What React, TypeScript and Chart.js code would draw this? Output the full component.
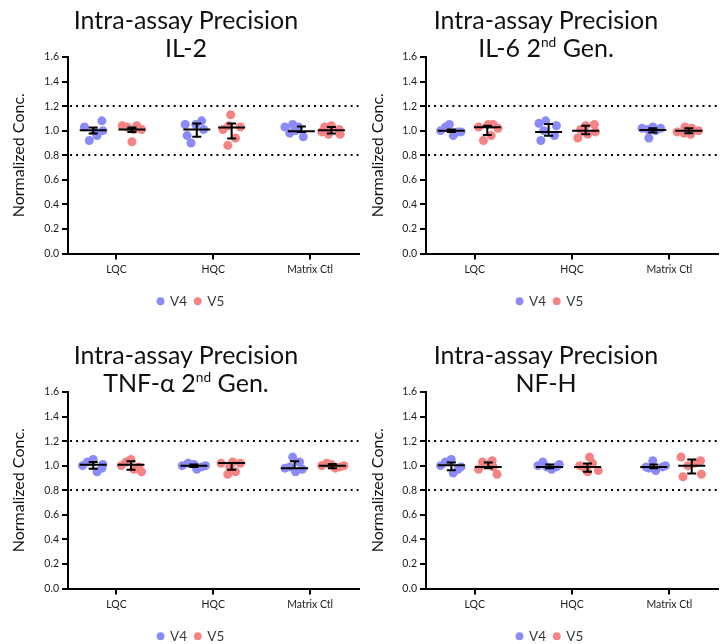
import React, { useEffect, useRef } from "react";
import { Chart, registerables } from "chart.js";

Chart.register(...registerables);

// ---------- data ----------
const CATEGORIES = ["LQC", "HQC", "Matrix Ctl"];
const SERIES = ["V4", "V5"];
const Y_TICKS = [0, 0.2, 0.4, 0.6, 0.8, 1.0, 1.2, 1.4, 1.6];
const LIMITS = [0.8, 1.2];
const TITLE_LINE1 = "Intra-assay Precision";
// second title line: [main, superscript, rest]
const TITLE_IL2 = ["IL-2", "", ""];
const TITLE_IL6 = ["IL-6 2", "nd", " Gen."];
const TITLE_TNF = ["TNF-\u03b1 2", "nd", " Gen."];
const TITLE_NFH = ["NF-H", "", ""];

// IL-2
const IL2_V4 = [[1.03, 0.92, 0.96, 1.08, 1.0, 0.99], [1.05, 0.9, 0.96, 1.05, 1.08, 1.01], [1.03, 1.05, 1.03, 0.95, 1.0, 0.98]];
const IL2_V4_X = [[-0.33, -0.28, -0.2, -0.15, -0.14, -0.22], [-0.29, -0.23, -0.27, -0.18, -0.12, -0.1], [-0.26, -0.18, -0.12, -0.07, -0.15, -0.21]];
const IL2_V5 = [[1.04, 1.03, 0.91, 1.04, 1.01, 1.01], [1.01, 1.13, 0.88, 1.03, 0.94, 1.04], [0.99, 1.03, 1.04, 1.01, 0.97, 0.97]];
const IL2_V5_X = [[0.06, 0.11, 0.16, 0.21, 0.26, 0.18], [0.1, 0.18, 0.15, 0.28, 0.23, 0.16], [0.12, 0.15, 0.22, 0.3, 0.31, 0.19]];
const IL2_V4_MED = [1.004, 1.01, 0.996];
const IL2_V4_LO = [0.977, 0.95, 0.99];
const IL2_V4_HI = [1.026, 1.059, 1.034];
const IL2_V5_MED = [1.01, 1.026, 1.004];
const IL2_V5_LO = [0.99, 0.936, 0.977];
const IL2_V5_HI = [1.026, 1.059, 1.03];
const IL2_V4_C = [-0.24, -0.17, -0.09];
const IL2_V5_C = [0.16, 0.19, 0.22];

// IL-6 2nd Gen.
const IL6_V4 = [[1.0, 1.03, 1.05, 0.96, 0.99, 0.99], [1.06, 1.08, 0.92, 1.04, 0.96, 1.0], [1.02, 0.94, 1.03, 1.02, 1.0, 1.01]];
const IL6_V4_X = [[-0.35, -0.3, -0.26, -0.22, -0.17, -0.14], [-0.34, -0.27, -0.32, -0.16, -0.18, -0.29], [-0.28, -0.21, -0.17, -0.09, -0.14, -0.22]];
const IL6_V5 = [[1.03, 0.92, 1.05, 1.05, 1.02, 0.96], [0.94, 1.01, 0.97, 1.05, 0.99, 1.04], [0.99, 1.03, 1.02, 1.0, 0.97, 0.98]];
const IL6_V5_X = [[0.04, 0.09, 0.14, 0.19, 0.24, 0.17], [0.06, 0.09, 0.16, 0.23, 0.24, 0.14], [0.08, 0.16, 0.23, 0.3, 0.22, 0.15]];
const IL6_V4_MED = [1.0, 0.99, 1.005];
const IL6_V4_LO = [0.99, 0.958, 0.986];
const IL6_V4_HI = [1.01, 1.054, 1.02];
const IL6_V5_MED = [1.027, 1.0, 1.0];
const IL6_V5_LO = [0.964, 0.972, 0.98];
const IL6_V5_HI = [1.04, 1.04, 1.02];
const IL6_V4_C = [-0.24, -0.24, -0.17];
const IL6_V5_C = [0.13, 0.14, 0.2];

// TNF-α 2nd Gen.
const TNF_V4 = [[1.0, 1.03, 1.05, 0.95, 0.98, 1.01], [1.0, 1.02, 1.01, 0.97, 0.99, 1.0], [1.07, 0.98, 0.99, 0.95, 0.97, 1.03]];
const TNF_V4_X = [[-0.35, -0.3, -0.24, -0.2, -0.15, -0.14], [-0.32, -0.26, -0.2, -0.17, -0.12, -0.08], [-0.18, -0.26, -0.21, -0.15, -0.08, -0.11]];
const TNF_V5 = [[1.0, 1.03, 1.05, 0.97, 0.99, 0.95], [1.02, 0.93, 1.03, 0.95, 1.02, 0.99], [1.0, 1.02, 1.01, 0.98, 0.99, 1.0]];
const TNF_V5_X = [[0.05, 0.1, 0.15, 0.18, 0.23, 0.26], [0.08, 0.15, 0.2, 0.23, 0.28, 0.17], [0.12, 0.17, 0.22, 0.26, 0.31, 0.35]];
const TNF_V4_MED = [1.008, 1.0, 0.98];
const TNF_V4_LO = [0.976, 0.99, 0.98];
const TNF_V4_HI = [1.03, 1.01, 1.036];
const TNF_V5_MED = [1.008, 1.022, 1.0];
const TNF_V5_LO = [0.967, 0.967, 0.98];
const TNF_V5_HI = [1.036, 1.022, 1.014];
const TNF_V4_C = [-0.24, -0.2, -0.16];
const TNF_V5_C = [0.15, 0.19, 0.23];

// NF-H
const NFH_V4 = [[1.0, 1.03, 1.05, 0.94, 0.97, 0.99], [1.0, 1.03, 0.99, 0.97, 0.99, 1.01], [1.04, 0.99, 0.96, 0.99, 0.98, 1.0]];
const NFH_V4_X = [[-0.35, -0.3, -0.24, -0.22, -0.17, -0.14], [-0.35, -0.3, -0.26, -0.21, -0.16, -0.13], [-0.17, -0.24, -0.14, -0.07, -0.21, -0.04]];
const NFH_V5 = [[0.97, 1.03, 1.01, 0.99, 0.93, 1.04], [1.07, 1.0, 0.98, 1.02, 0.96, 0.95], [1.07, 0.91, 1.04, 0.93, 1.0, 1.02]];
const NFH_V5_X = [[0.04, 0.08, 0.14, 0.19, 0.23, 0.18], [0.18, 0.08, 0.13, 0.21, 0.27, 0.16], [0.12, 0.14, 0.32, 0.33, 0.19, 0.26]];
const NFH_V4_MED = [1.003, 0.99, 0.99];
const NFH_V4_LO = [0.962, 0.98, 0.98];
const NFH_V4_HI = [1.025, 1.01, 1.01];
const NFH_V5_MED = [0.99, 0.99, 1.0];
const NFH_V5_LO = [0.98, 0.95, 0.936];
const NFH_V5_HI = [1.025, 1.017, 1.05];
const NFH_V4_C = [-0.24, -0.23, -0.16];
const NFH_V5_C = [0.14, 0.16, 0.23];

// ---------- styling ----------
const COLORS = ["#8b8bf7", "#f58383"];
const FONT = "Lato, 'Open Sans', sans-serif";
const PANEL_W = 363;
const PANEL_H = 322;

type SeriesData = { vals: number[][]; xs: number[][]; med: number[]; lo: number[]; hi: number[]; c: number[] };

const PANELS = [
  {
    title: TITLE_IL2, left: 0, top: 0, col: 0,
    series: [
      { vals: IL2_V4, xs: IL2_V4_X, med: IL2_V4_MED, lo: IL2_V4_LO, hi: IL2_V4_HI, c: IL2_V4_C },
      { vals: IL2_V5, xs: IL2_V5_X, med: IL2_V5_MED, lo: IL2_V5_LO, hi: IL2_V5_HI, c: IL2_V5_C },
    ],
  },
  {
    title: TITLE_IL6, left: 363, top: 0, col: 1,
    series: [
      { vals: IL6_V4, xs: IL6_V4_X, med: IL6_V4_MED, lo: IL6_V4_LO, hi: IL6_V4_HI, c: IL6_V4_C },
      { vals: IL6_V5, xs: IL6_V5_X, med: IL6_V5_MED, lo: IL6_V5_LO, hi: IL6_V5_HI, c: IL6_V5_C },
    ],
  },
  {
    title: TITLE_TNF, left: 0, top: 335, col: 0,
    series: [
      { vals: TNF_V4, xs: TNF_V4_X, med: TNF_V4_MED, lo: TNF_V4_LO, hi: TNF_V4_HI, c: TNF_V4_C },
      { vals: TNF_V5, xs: TNF_V5_X, med: TNF_V5_MED, lo: TNF_V5_LO, hi: TNF_V5_HI, c: TNF_V5_C },
    ],
  },
  {
    title: TITLE_NFH, left: 363, top: 335, col: 1,
    series: [
      { vals: NFH_V4, xs: NFH_V4_X, med: NFH_V4_MED, lo: NFH_V4_LO, hi: NFH_V4_HI, c: NFH_V4_C },
      { vals: NFH_V5, xs: NFH_V5_X, med: NFH_V5_MED, lo: NFH_V5_LO, hi: NFH_V5_HI, c: NFH_V5_C },
    ],
  },
];

// per-column layout
const COLUMN = [
  { padLeft: 20, padRight: 1, yWidth: 48, yTitlePad: -11, titleCenter: 186 },
  { padLeft: 19, padRight: 8, yWidth: 44, yTitlePad: -13.5, titleCenter: 183 },
];

const summaryPlugin = {
  id: "summary",
  beforeDatasetsDraw(chart: any) {
    const { ctx, chartArea, scales } = chart;
    ctx.save();
    ctx.strokeStyle = "#000";
    ctx.lineWidth = 2.2;
    ctx.setLineDash([2, 4.1]);
    LIMITS.forEach((v) => {
      const py = Math.round(scales.y.getPixelForValue(v));
      ctx.beginPath();
      ctx.moveTo(chartArea.left + 2, py);
      ctx.lineTo(chartArea.right, py);
      ctx.stroke();
    });
    ctx.restore();
  },
  afterDatasetsDraw(chart: any) {
    const { ctx, scales } = chart;
    const { x, y } = scales;
    ctx.save();
    ctx.strokeStyle = "#000";
    ctx.lineWidth = 2;
    ctx.lineCap = "butt";
    chart.data.datasets.forEach((ds: any) => {
      const s: SeriesData = ds.summary;
      s.c.forEach((off, ci) => {
        const px = x.getPixelForValue(ci + off);
        const pm = y.getPixelForValue(s.med[ci]);
        const pl = y.getPixelForValue(s.lo[ci]);
        const ph = y.getPixelForValue(s.hi[ci]);
        ctx.beginPath();
        ctx.moveTo(px - 13.5, pm);
        ctx.lineTo(px + 13.5, pm);
        ctx.moveTo(px, ph);
        ctx.lineTo(px, pl);
        ctx.moveTo(px - 4.5, ph);
        ctx.lineTo(px + 4.5, ph);
        ctx.moveTo(px - 4.5, pl);
        ctx.lineTo(px + 4.5, pl);
        ctx.stroke();
      });
    });
    ctx.restore();
  },
};

function Panel({ panel }: { panel: (typeof PANELS)[number] }) {
  const ref = useRef<HTMLCanvasElement>(null);
  const col = COLUMN[panel.col];
  useEffect(() => {
    if (!ref.current) return;
    const datasets = panel.series.map((s: SeriesData, si: number) => ({
      label: SERIES[si],
      data: s.vals.flatMap((arr, ci) => arr.map((v, i) => ({ x: ci + s.xs[ci][i], y: v }))),
      backgroundColor: COLORS[si],
      borderColor: COLORS[si],
      borderWidth: 0,
      pointRadius: 4.5,
      pointHoverRadius: 4.5,
      pointStyle: "circle",
      summary: s,
    }));
    const chart = new Chart(ref.current, {
      type: "scatter",
      data: { datasets } as any,
      plugins: [summaryPlugin],
      options: {
        animation: false,
        responsive: false,
        devicePixelRatio: 1,
        events: [],
        layout: { padding: { top: 57, left: col.padLeft, right: col.padRight, bottom: 4 } },
        plugins: {
          tooltip: { enabled: false },
          title: { display: false },
          legend: {
            display: true,
            position: "bottom",
            labels: {
              usePointStyle: true,
              pointStyle: "circle",
              boxWidth: 5.5,
              boxHeight: 5.5,
              padding: 8,
              color: "#3a3a3a",
              font: { family: FONT, size: 13.5 },
            },
          },
        },
        scales: {
          x: {
            type: "linear",
            min: -0.5,
            max: 2.5,
            afterBuildTicks: (s: any) => {
              s.ticks = CATEGORIES.map((_, i) => ({ value: i }));
            },
            afterFit: (s: any) => {
              s.height = 33;
            },
            ticks: {
              autoSkip: false,
              maxRotation: 0,
              padding: 4,
              color: "#1a1a1a",
              font: { family: FONT, size: 10.5 },
              callback: (v: any) => CATEGORIES[v] ?? "",
            },
            grid: { display: true, drawOnChartArea: false, drawTicks: true, tickLength: 6, color: "#000", lineWidth: 2 },
            border: { display: true, color: "#000", width: 2 },
          },
          y: {
            min: 0,
            max: 1.6,
            afterBuildTicks: (s: any) => {
              s.ticks = Y_TICKS.map((v) => ({ value: v }));
            },
            afterFit: (s: any) => {
              s.width = col.yWidth;
            },
            ticks: {
              padding: 3,
              color: "#1a1a1a",
              font: { family: FONT, size: 10.5 },
              callback: (v: any) => Number(v).toFixed(1),
            },
            grid: { display: true, drawOnChartArea: false, drawTicks: true, tickLength: 6, color: "#000", lineWidth: 2 },
            border: { display: true, color: "#000", width: 2 },
            title: {
              display: true,
              text: "Normalized Conc.",
              color: "#111",
              font: { family: FONT, size: 16 },
              padding: { top: col.yTitlePad, bottom: 0 },
            },
          },
        },
      } as any,
    });
    return () => chart.destroy();
  }, []);

  const [main, sup, rest] = panel.title;
  return (
    <div style={{ position: "absolute", left: panel.left, top: panel.top, width: PANEL_W, height: PANEL_H }}>
      <canvas ref={ref} width={PANEL_W} height={PANEL_H} style={{ display: "block", width: PANEL_W, height: PANEL_H }} />
      <div
        style={{
          position: "absolute",
          left: col.titleCenter - 160,
          width: 320,
          top: 5,
          textAlign: "center",
          fontFamily: FONT,
          fontSize: 25,
          lineHeight: "28px",
          color: "#111",
          whiteSpace: "nowrap",
        }}
      >
        <div>{TITLE_LINE1}</div>
        <div>
          {main}
          {sup ? <sup style={{ fontSize: "0.55em", lineHeight: 0, verticalAlign: "0.75em" }}>{sup}</sup> : null}
          {rest}
        </div>
      </div>
    </div>
  );
}

export default function App() {
  return (
    <div style={{ position: "fixed", left: 0, top: 0, width: 726, height: 644, overflow: "hidden", background: "#fff" }}>
      {PANELS.map((p, i) => (
        <Panel key={i} panel={p} />
      ))}
    </div>
  );
}
